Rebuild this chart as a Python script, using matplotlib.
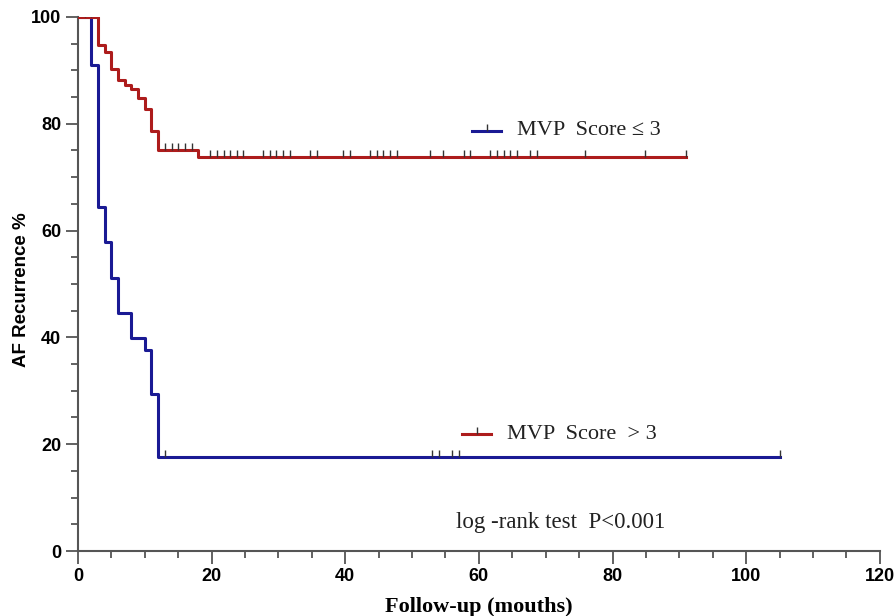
import matplotlib
matplotlib.use("Agg")
import matplotlib.pyplot as plt
from matplotlib.lines import Line2D

# ---- data ----
# MVP Score > 3 group (blue curve): step times and survival values
blue_times = [0, 2, 3, 4, 5, 6, 8, 10, 11, 12, 105]
blue_vals = [100, 91.0, 64.5, 57.9, 51.1, 44.5, 39.9, 37.6, 29.4, 17.6, 17.6]
blue_censor_t = [1, 13, 53, 54, 56, 57, 105]
blue_censor_v = [100, 17.6, 17.6, 17.6, 17.6, 17.6, 17.6]

# MVP Score <= 3 group (red curve)
red_times = [0, 3, 4, 5, 6, 7, 8, 9, 10, 11, 12, 18, 91]
red_vals = [100, 94.8, 93.4, 90.2, 88.1, 87.3, 86.5, 84.8, 82.7, 78.7, 75.1, 73.8, 73.8]
red_censor_t = [2, 13, 14, 15, 16, 17,
                19.8, 20.8, 21.8, 22.8, 23.8, 24.7, 27.7, 28.7, 29.7, 30.7, 31.7,
                34.7, 35.7, 39.7, 40.7, 43.7, 44.7, 45.7, 46.7, 47.7, 52.7, 54.7,
                57.7, 58.7, 61.7, 62.7, 63.7, 64.7, 65.7, 67.7, 68.7, 75.9, 84.9, 91]
red_censor_v = [100, 75.1, 75.1, 75.1, 75.1, 75.1] + [73.8] * 34

label_blue_legend = "MVP  Score \u2264 3"
label_red_legend = "MVP  Score  > 3"
annot_text = "log -rank test  P<0.001"

x_ticks = [0, 20, 40, 60, 80, 100, 120]
y_ticks = [0, 20, 40, 60, 80, 100]

BLUE = "#1a1a94"
RED = "#ad1c1c"
TICKC = "#333333"

fig = plt.figure(figsize=(8.96, 6.16), dpi=100)
ax = fig.add_axes([0.087, 0.1055, 0.895, 0.867])

ax.step(blue_times, blue_vals, where="post", color=BLUE, lw=2.2, zorder=3)
ax.step(red_times, red_vals, where="post", color=RED, lw=2.2, zorder=3)
ax.plot(blue_censor_t, blue_censor_v, ls="none", marker=2, ms=5, mew=1.0,
        color=TICKC, zorder=4)
ax.plot(red_censor_t, red_censor_v, ls="none", marker=2, ms=5, mew=1.0,
        color=TICKC, zorder=4)

ax.set_xlim(0, 120)
ax.set_ylim(0, 100)
ax.set_xticks(x_ticks)
ax.set_yticks(y_ticks)
ax.set_xticks(range(0, 121, 5), minor=True)
ax.set_yticks(range(0, 101, 5), minor=True)

for s in ["top", "right"]:
    ax.spines[s].set_visible(False)
for s in ["left", "bottom"]:
    ax.spines[s].set_color("#555555")
    ax.spines[s].set_linewidth(1.5)

ax.tick_params(which="major", length=9, width=1.3, color="#555555", pad=3)
ax.tick_params(which="minor", length=5, width=1.3, color="#555555")

tick_font = ["Liberation Sans Narrow", "Liberation Sans", "DejaVu Sans"]
for lab in ax.get_xticklabels() + ax.get_yticklabels():
    lab.set_family(tick_font)
    lab.set_fontweight("bold")
    lab.set_fontsize(13)

ax.set_xlabel("Follow-up (mouths)", family=["Liberation Serif", "DejaVu Serif"],
              fontweight="bold", fontsize=16, labelpad=9)
ax.set_ylabel("AF Recurrence %", family=["Liberation Sans", "DejaVu Sans"],
              fontweight="bold", fontsize=13.5)
ax.yaxis.set_label_coords(-0.06, 0.49)

serif = ["Liberation Serif", "DejaVu Serif"]
# legend-like annotations
ax.add_line(Line2D([0.492, 0.528], [0.787, 0.787], transform=ax.transAxes,
                   color=BLUE, lw=2.2))
ax.plot([0.510], [0.787], transform=ax.transAxes, marker=2, ms=5, mew=1.0,
        color=TICKC)
ax.text(0.548, 0.787, label_blue_legend, transform=ax.transAxes,
        family=serif, fontsize=16, va="center", ha="left", color="#222222")

ax.add_line(Line2D([0.479, 0.515], [0.219, 0.219], transform=ax.transAxes,
                   color=RED, lw=2.2))
ax.plot([0.497], [0.219], transform=ax.transAxes, marker=2, ms=5, mew=1.0,
        color=TICKC)
ax.text(0.535, 0.219, label_red_legend, transform=ax.transAxes,
        family=serif, fontsize=16, va="center", ha="left", color="#222222")

ax.text(0.472, 0.054, annot_text, transform=ax.transAxes,
        family=serif, fontsize=16.5, va="center", ha="left", color="#222222")

fig.savefig("out.png", dpi=100)
